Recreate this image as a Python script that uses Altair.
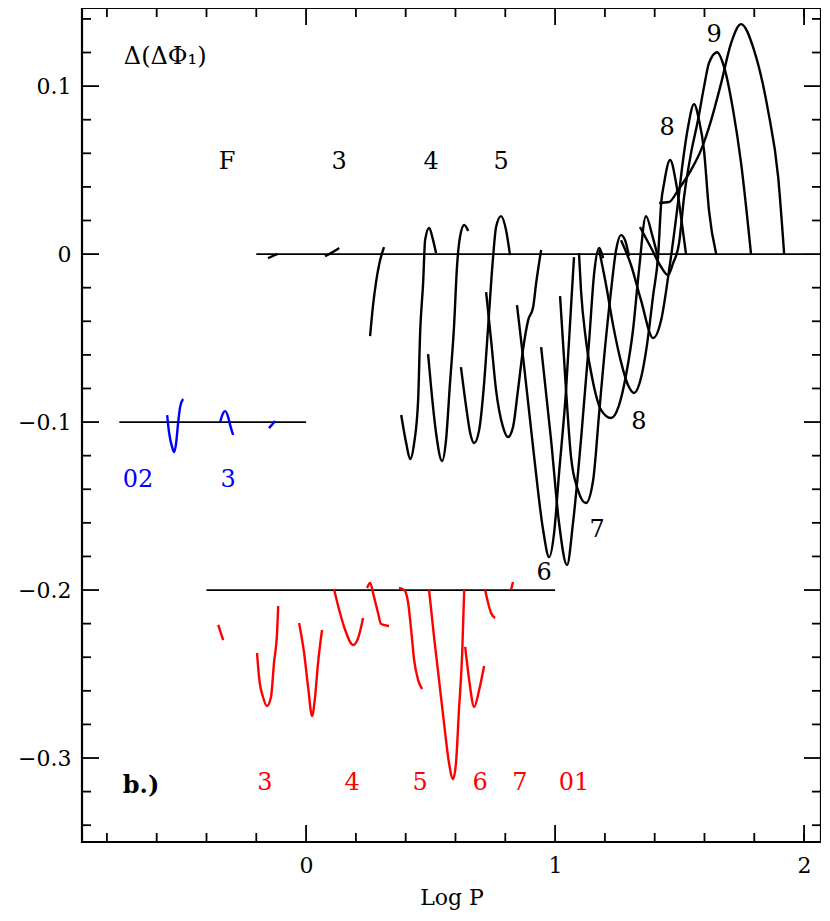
import altair as alt
import pandas as pd

W, H = 739, 834
FONT = "DejaVu Serif"

# ---------------- black curves (Log P, Delta(Delta Phi_1)) ----------------
k1_x = [-0.153, -0.135, -0.115]
k1_y = [-0.0025, -0.0012, 0.0]
k2_x = [0.076, 0.100, 0.133]
k2_y = [-0.0012, 0.0006, 0.0036]
k3_x = [0.257, 0.269, 0.281, 0.293, 0.313]
k3_y = [-0.0488, -0.0304, -0.0167, -0.0065, 0.0042]
a_x = [0.382, 0.402, 0.418, 0.434, 0.450, 0.458, 0.470, 0.478, 0.494, 0.510, 0.522]
a_y = [-0.0958, -0.1125, -0.122, -0.1125, -0.0869, -0.047, -0.0173, 0.0083, 0.0155, 0.0083, 0.0006]
b_x = [0.490, 0.502, 0.522, 0.546, 0.562, 0.578, 0.594, 0.606, 0.618, 0.635, 0.651]
b_y = [-0.0595, -0.0792, -0.1065, -0.1232, -0.1107, -0.0768, -0.0435, -0.0077, 0.0101, 0.0173, 0.0137]
c_x = [0.622, 0.643, 0.659, 0.675, 0.695, 0.715, 0.731, 0.751, 0.763, 0.783, 0.803, 0.819]
c_y = [-0.0673, -0.0911, -0.1065, -0.1125, -0.1048, -0.0768, -0.0435, -0.0018, 0.0161, 0.0226, 0.0143, -0.0006]
d_x = [0.723, 0.743, 0.763, 0.791, 0.811, 0.831, 0.851, 0.871, 0.892, 0.912, 0.924, 0.944]
d_y = [-0.0226, -0.0512, -0.081, -0.103, -0.1089, -0.103, -0.081, -0.0571, -0.0393, -0.0315, -0.0173, 0.0024]
e_x = [0.847, 0.876, 0.916, 0.952, 0.976, 0.996, 1.016, 1.044, 1.064, 1.076]
e_y = [-0.0304, -0.0673, -0.1208, -0.1643, -0.1804, -0.1661, -0.1304, -0.081, -0.0315, -0.0018]
f_x = [0.944, 0.984, 1.016, 1.048, 1.072, 1.104, 1.137, 1.157, 1.177, 1.193]
f_y = [-0.0554, -0.1107, -0.1601, -0.1851, -0.1601, -0.1107, -0.0512, -0.0113, 0.0036, -0.0024]
g_x = [1.020, 1.044, 1.064, 1.092, 1.124, 1.153, 1.177, 1.197, 1.225, 1.245, 1.265, 1.281, 1.297]
g_y = [-0.025, -0.081, -0.1208, -0.1405, -0.1482, -0.1345, -0.0946, -0.0613, -0.0214, 0.0024, 0.0113, 0.0083, -0.0012]
h_x = [1.096, 1.104, 1.124, 1.153, 1.185, 1.225, 1.257, 1.285, 1.313, 1.337, 1.365, 1.390, 1.414]
h_y = [0.0006, -0.0214, -0.0512, -0.0768, -0.0929, -0.0976, -0.0899, -0.072, -0.0452, -0.0095, 0.0226, 0.0113, -0.0024]
i_x = [1.177, 1.205, 1.233, 1.265, 1.293, 1.317, 1.345, 1.369, 1.394, 1.414, 1.426, 1.438, 1.462, 1.486, 1.506, 1.526]
i_y = [0.0024, -0.0185, -0.0423, -0.0643, -0.078, -0.0827, -0.0738, -0.0542, -0.0244, -0.0006, 0.030, 0.0423, 0.056, 0.0423, 0.022, 0.0]
j_x = [1.265, 1.305, 1.345, 1.394, 1.426, 1.458, 1.490, 1.514, 1.534, 1.558, 1.578, 1.598, 1.618, 1.647]
j_y = [0.0083, -0.0065, -0.0274, -0.05, -0.0393, -0.0095, 0.0262, 0.056, 0.0756, 0.0893, 0.0798, 0.0619, 0.0262, 0.0]
k_x = [1.341, 1.386, 1.426, 1.454, 1.474, 1.498, 1.518, 1.546, 1.574, 1.598, 1.618, 1.651, 1.679, 1.715, 1.747, 1.787]
k_y = [0.0161, 0.0036, -0.0077, -0.0125, -0.0054, 0.0065, 0.0339, 0.0601, 0.0798, 0.0994, 0.1137, 0.1202, 0.1113, 0.0857, 0.0542, 0.0]
l_x = [1.418, 1.458, 1.494, 1.546, 1.586, 1.627, 1.667, 1.707, 1.747, 1.799, 1.855, 1.896, 1.920]
l_y = [0.0304, 0.031, 0.0381, 0.05, 0.0619, 0.0798, 0.1018, 0.1256, 0.1369, 0.1214, 0.0857, 0.0458, 0.0]

# ---------------- blue curves ----------------
u1_x = [-0.558, -0.550, -0.538, -0.530, -0.522, -0.514, -0.506, -0.494]
u1_y = [-0.0958, -0.1065, -0.1149, -0.1179, -0.1125, -0.1006, -0.0911, -0.0863]
u2_x = [-0.345, -0.333, -0.325, -0.313, -0.305, -0.293]
u2_y = [-0.100, -0.0946, -0.0935, -0.097, -0.1018, -0.1077]
u3_x = [-0.149, -0.124]
u3_y = [-0.1036, -0.0994]

# ---------------- red curves ----------------
r1_x = [-0.353, -0.333]
r1_y = [-0.2208, -0.2298]
r2_x = [-0.197, -0.189, -0.173, -0.157, -0.141, -0.129, -0.116, -0.112]
r2_y = [-0.2375, -0.2518, -0.2637, -0.269, -0.2637, -0.2435, -0.2238, -0.2095]
r3_x = [-0.028, -0.008, 0.008, 0.024, 0.036, 0.048, 0.064]
r3_y = [-0.2196, -0.2375, -0.2577, -0.275, -0.2637, -0.2435, -0.2238]
r4_x = [0.112, 0.133, 0.157, 0.189, 0.209, 0.229]
r4_y = [-0.1994, -0.2119, -0.2238, -0.2327, -0.2286, -0.2167]
r5_x = [0.245, 0.257, 0.273, 0.289, 0.301, 0.333]
r5_y = [-0.1988, -0.1958, -0.2042, -0.2137, -0.2202, -0.2214]
r6_x = [0.373, 0.394, 0.410, 0.422, 0.434, 0.450, 0.466]
r6_y = [-0.1988, -0.200, -0.2077, -0.2238, -0.2417, -0.2536, -0.2589]
r7_x = [0.494, 0.514, 0.534, 0.554, 0.574, 0.590, 0.602, 0.614, 0.627, 0.635]
r7_y = [-0.200, -0.228, -0.2536, -0.2792, -0.303, -0.3125, -0.303, -0.2714, -0.2375, -0.200]
r8_x = [0.639, 0.655, 0.675, 0.695, 0.715]
r8_y = [-0.2339, -0.2536, -0.2696, -0.2595, -0.2452]
r9_x = [0.719, 0.731, 0.743, 0.759]
r9_y = [-0.200, -0.2077, -0.2137, -0.2167]
r10_x = [0.823, 0.831]
r10_y = [-0.200, -0.1952]

# ---------------- horizontal reference lines ----------------
ref_y = [0.0, -0.1, -0.2]
ref_x1 = [-0.2, -0.75, -0.4]
ref_x2 = [2.0, 0.0, 1.0]

# ---------------- labels ----------------
lab_text = ["Δ(ΔΦ₁)", "F", "3", "4", "5", "8", "9", "8", "7", "6",
            "02", "3",
            "3", "4", "5", "6", "7", "01"]
lab_x = [-0.566, -0.317, 0.133, 0.502, 0.783, 1.450, 1.639, 1.337, 1.169, 0.956,
         -0.675, -0.313,
         -0.165, 0.185, 0.458, 0.699, 0.859, 1.076]
lab_y = [0.1173, 0.0548, 0.0548, 0.0548, 0.0548, 0.075, 0.1304, -0.100, -0.1643, -0.1899,
         -0.1345, -0.1345,
         -0.3149, -0.3149, -0.3149, -0.3149, -0.3149, -0.3149]
lab_color = ["black"] * 10 + ["blue"] * 2 + ["red"] * 6
panel_text = ["b.)"]
panel_x = [-0.663]
panel_y = [-0.3165]

# ---------------- axis ranges and tick values ----------------
x_range = [-0.9, 2.068]
y_range = [-0.35, 0.1465]
x_minor = [-0.8, -0.6, -0.4, -0.2, 0.2, 0.4, 0.6, 0.8, 1.2, 1.4, 1.6, 1.8, 2.0]
x_major = [0.0, 1.0, 2.0]
y_minor = [-0.34, -0.32, -0.28, -0.26, -0.24, -0.22, -0.18, -0.16, -0.14, -0.12,
           -0.08, -0.06, -0.04, -0.02, 0.02, 0.04, 0.06, 0.08, 0.12, 0.14]
y_major = [-0.3, -0.2, -0.1, 0.0, 0.1]

curves = [
    ("k1", k1_x, k1_y, "black"), ("k2", k2_x, k2_y, "black"), ("k3", k3_x, k3_y, "black"),
    ("a", a_x, a_y, "black"), ("b", b_x, b_y, "black"), ("c", c_x, c_y, "black"),
    ("d", d_x, d_y, "black"), ("e", e_x, e_y, "black"), ("f", f_x, f_y, "black"),
    ("g", g_x, g_y, "black"), ("h", h_x, h_y, "black"), ("i", i_x, i_y, "black"),
    ("j", j_x, j_y, "black"), ("k", k_x, k_y, "black"), ("l", l_x, l_y, "black"),
    ("u1", u1_x, u1_y, "blue"), ("u2", u2_x, u2_y, "blue"), ("u3", u3_x, u3_y, "blue"),
    ("r1", r1_x, r1_y, "red"), ("r2", r2_x, r2_y, "red"), ("r3", r3_x, r3_y, "red"),
    ("r4", r4_x, r4_y, "red"), ("r5", r5_x, r5_y, "red"), ("r6", r6_x, r6_y, "red"),
    ("r7", r7_x, r7_y, "red"), ("r8", r8_x, r8_y, "red"), ("r9", r9_x, r9_y, "red"),
    ("r10", r10_x, r10_y, "red"),
]
rows = []
for name, xs, ys, col in curves:
    for idx, (xv, yv) in enumerate(zip(xs, ys)):
        rows.append({"curve": name, "x": xv, "y": yv, "color": col, "i": idx})
curve_df = pd.DataFrame(rows)

ref_df = pd.DataFrame({"y": ref_y, "x1": ref_x1, "x2": ref_x2})
lab_df = pd.DataFrame({"x": lab_x, "y": lab_y, "text": lab_text, "color": lab_color})
panel_df = pd.DataFrame({"x": panel_x, "y": panel_y, "text": panel_text})

xscale = alt.Scale(domain=x_range, nice=False, zero=False)
yscale = alt.Scale(domain=y_range, nice=False, zero=False)

x_axis = alt.Axis(values=x_major, format="d", ticks=False, domain=False, grid=False,
                  labelFont=FONT, labelFontSize=22, labelColor="black", labelPadding=13,
                  title="Log P", titleFont=FONT, titleFontSize=22, titleFontWeight="normal",
                  titleColor="black", titlePadding=11)
y_axis = alt.Axis(values=y_major, ticks=False, domain=False, grid=False,
                  labelExpr="datum.value == 0 ? '0' : format(datum.value, '.1f')",
                  labelFont=FONT, labelFontSize=22, labelColor="black", labelPadding=11,
                  title=None)

lines = alt.Chart(curve_df).mark_line(interpolate="monotone", strokeWidth=2.4).encode(
    x=alt.X("x:Q", scale=xscale, axis=x_axis),
    y=alt.Y("y:Q", scale=yscale, axis=y_axis),
    detail="curve:N",
    order="i:Q",
    color=alt.Color("color:N", scale=None),
)

refs = alt.Chart(ref_df).mark_rule(color="black", strokeWidth=1.8).encode(
    x=alt.X("x1:Q", scale=xscale), x2="x2:Q", y=alt.Y("y:Q", scale=yscale))

labels = alt.Chart(lab_df).mark_text(font=FONT, fontSize=24, align="center", baseline="middle").encode(
    x=alt.X("x:Q", scale=xscale), y=alt.Y("y:Q", scale=yscale), text="text:N",
    color=alt.Color("color:N", scale=None))

panel = alt.Chart(panel_df).mark_text(font=FONT, fontSize=24, fontWeight="bold",
                                      align="center", baseline="middle").encode(
    x=alt.X("x:Q", scale=xscale), y=alt.Y("y:Q", scale=yscale), text="text:N")

frame = alt.Chart(pd.DataFrame({"a": [0]})).mark_rect(
    fillOpacity=0, stroke="black", strokeWidth=2.2).encode(
    x=alt.value(0), x2=alt.value(W), y=alt.value(0), y2=alt.value(H))

MIN_L, MAJ_L = 9, 17
xmin_df = pd.DataFrame({"v": x_minor})
xmaj_df = pd.DataFrame({"v": x_major})
ymin_df = pd.DataFrame({"v": y_minor})
ymaj_df = pd.DataFrame({"v": y_major})

def xticks(df, length):
    bottom = alt.Chart(df).mark_rule(color="black", strokeWidth=1.8).encode(
        x=alt.X("v:Q", scale=xscale), y=alt.value(H), y2=alt.value(H - length))
    top = alt.Chart(df).mark_rule(color="black", strokeWidth=1.8).encode(
        x=alt.X("v:Q", scale=xscale), y=alt.value(0), y2=alt.value(length))
    return bottom + top

def yticks(df, length):
    left = alt.Chart(df).mark_rule(color="black", strokeWidth=1.8).encode(
        y=alt.Y("v:Q", scale=yscale), x=alt.value(0), x2=alt.value(length))
    right = alt.Chart(df).mark_rule(color="black", strokeWidth=1.8).encode(
        y=alt.Y("v:Q", scale=yscale), x=alt.value(W), x2=alt.value(W - length))
    return left + right

chart = alt.layer(
    refs, lines, labels, panel, frame,
    xticks(xmin_df, MIN_L), xticks(xmaj_df, MAJ_L),
    yticks(ymin_df, MIN_L), yticks(ymaj_df, MAJ_L),
).properties(
    width=W, height=H,
    autosize=alt.AutoSizeParams(type="none"),
    padding={"left": 74, "top": 0, "right": 0, "bottom": 71},
).configure_view(stroke=None).configure(background="white")

chart.save("out.html", embed_options={"renderer": "svg", "actions": False})
